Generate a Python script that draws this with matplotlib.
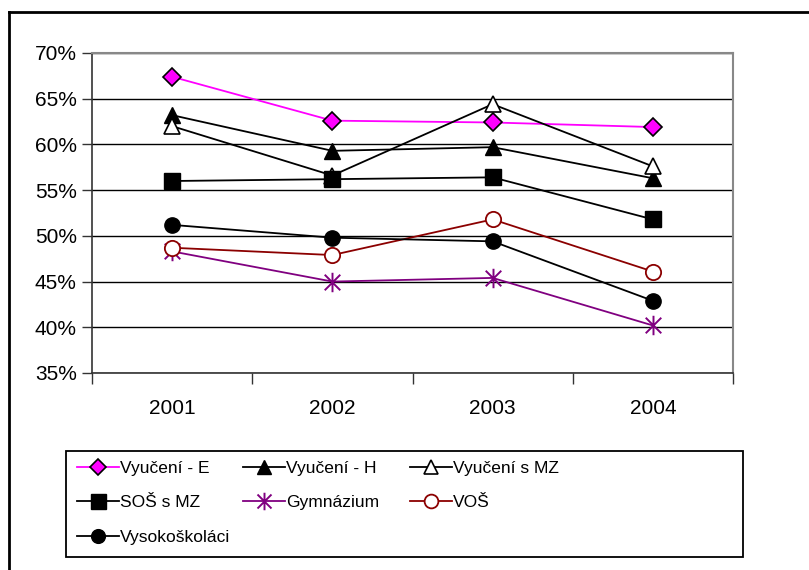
import matplotlib.pyplot as plt
from matplotlib.lines import Line2D
from matplotlib.patches import Rectangle
from matplotlib.path import Path
from matplotlib.ticker import FuncFormatter

plt.rcParams['font.family'] = ['Liberation Sans', 'DejaVu Sans']

# data (percent)
years = ['2001', '2002', '2003', '2004']
vyuceni_e = [67.4, 62.6, 62.4, 61.9]
vyuceni_h = [63.2, 59.3, 59.7, 56.3]
vyuceni_mz = [62.0, 56.6, 64.4, 57.6]
sos_mz = [56.0, 56.2, 56.4, 51.8]
gymnazium = [48.3, 45.0, 45.4, 40.2]
vos = [48.7, 47.9, 51.8, 46.1]
vysokoskolaci = [51.2, 49.8, 49.4, 42.9]

# excel style star: vertical bar plus an X
star = Path([(0, -1), (0, 1), (-0.8, -0.8), (0.8, 0.8), (-0.8, 0.8), (0.8, -0.8)],
            [Path.MOVETO, Path.LINETO, Path.MOVETO, Path.LINETO, Path.MOVETO, Path.LINETO])

series = [
    ('Vyučení - E', vyuceni_e, dict(color='#ff00ff', marker='D', ms=9.5, mfc='#ff00ff', mec='black', mew=1.2)),
    ('Vyučení - H', vyuceni_h, dict(color='black', marker='^', ms=11, mfc='black', mec='black')),
    ('Vyučení s MZ', vyuceni_mz, dict(color='black', marker='^', ms=11, mfc='white', mec='black', mew=1.2)),
    ('SOŠ s MZ', sos_mz, dict(color='black', marker='s', ms=12, mfc='black', mec='black')),
    ('Gymnázium', gymnazium, dict(color='#800080', marker=star, ms=14, mec='#800080', mew=1.4)),
    ('VOŠ', vos, dict(color='#8b0000', marker='o', ms=11, mfc='white', mec='#8b0000', mew=1.3)),
    ('Vysokoškoláci', vysokoskolaci, dict(color='black', marker='o', ms=11, mfc='black', mec='black')),
]

fig = plt.figure(figsize=(8.09, 5.70), dpi=100)
ax = fig.add_axes([92/809, 1 - 373/570, (733 - 92)/809, (373 - 53)/570])

x = list(range(len(years)))
handles = []
for name, vals, st in series:
    h, = ax.plot(x, vals, lw=1.3, label=name, zorder=3, **st)
    handles.append(h)

ax.set_xlim(-0.5, len(years) - 0.5)
ax.set_ylim(35, 70)
ax.set_yticks(range(35, 71, 5))
ax.yaxis.set_major_formatter(FuncFormatter(lambda v, p: f'{v:.0f}%'))
ax.set_xticks(x)
ax.set_xticklabels(years)
ax.set_xticks([i - 0.5 for i in range(len(years) + 1)], minor=True)
ax.tick_params(axis='x', which='major', length=0, pad=19, labelsize=15)
ax.tick_params(axis='x', which='minor', length=8, width=1, color='#333333')
ax.tick_params(axis='y', length=7, width=1, color='#333333', labelsize=15, pad=4)
ax.grid(axis='y', color='black', lw=1)
ax.set_axisbelow(True)
for s in ['top', 'right']:
    ax.spines[s].set_color('#888888')
    ax.spines[s].set_linewidth(1.5)
for s in ['left', 'bottom']:
    ax.spines[s].set_color('#333333')
    ax.spines[s].set_linewidth(1.2)

# outer border (only left and top visible)
fig.add_artist(Line2D([9/809, 9/809], [0, 1 - 12/570], color='black', lw=2, transform=fig.transFigure))
fig.add_artist(Line2D([9/809, 1], [1 - 12/570, 1 - 12/570], color='black', lw=2, transform=fig.transFigure))

# legend: frame plus three columns placed by hand
fig.add_artist(Rectangle((66/809, 1 - 557/570), (743 - 66)/809, (557 - 451)/570,
                         transform=fig.transFigure, fill=False, edgecolor='black', lw=1.3))
columns = [[0, 3, 6], [1, 4], [2, 5]]
col_x = [77, 243, 410]
for cols, cx in zip(columns, col_x):
    leg = fig.legend([handles[i] for i in cols], [series[i][0] for i in cols],
                     loc='upper left', bbox_to_anchor=(cx/809, 1 - 461/570),
                     frameon=False, borderpad=0, borderaxespad=0, fontsize=12.5,
                     handlelength=2.4, handletextpad=0.1, labelspacing=1.1, markerscale=0.9)

fig.savefig('out.png', dpi=100)
